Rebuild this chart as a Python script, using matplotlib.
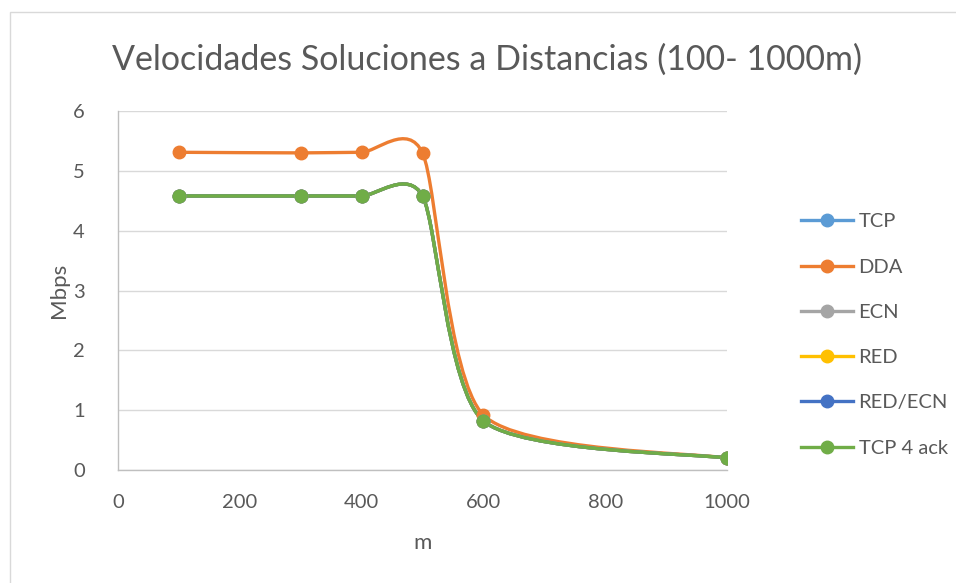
import numpy as np
import matplotlib
matplotlib.use("Agg")
import matplotlib.pyplot as plt
from matplotlib.path import Path
from matplotlib.patches import PathPatch, Rectangle
from matplotlib.lines import Line2D

# data
distancia = [100, 300, 400, 500, 600, 1000]
series = ["TCP", "DDA", "ECN", "RED", "RED/ECN", "TCP 4 ack"]
tcp = [4.58, 4.58, 4.58, 4.58, 0.82, 0.20]
dda = [5.31, 5.30, 5.31, 5.30, 0.92, 0.20]
ecn = [4.58, 4.58, 4.58, 4.58, 0.82, 0.20]
red = [4.58, 4.58, 4.58, 4.58, 0.82, 0.20]
red_ecn = [4.58, 4.58, 4.58, 4.58, 0.82, 0.20]
tcp_4ack = [4.58, 4.58, 4.58, 4.58, 0.82, 0.20]
valores = [tcp, dda, ecn, red, red_ecn, tcp_4ack]
colores = ["#5B9BD5", "#ED7D31", "#A5A5A5", "#FFC000", "#4472C4", "#70AD47"]

TXT = "#595959"
plt.rcParams["font.family"] = ["Lato", "DejaVu Sans"]


def smooth_path(xs, ys, f=0.12):
    # excel-like smoothed line: cubic bezier between the points
    p = np.column_stack([xs, ys]).astype(float)
    n = len(p)
    verts = [p[0]]
    codes = [Path.MOVETO]
    for i in range(n - 1):
        p0 = p[i - 1] if i > 0 else p[i]
        p1 = p[i]
        p2 = p[i + 1]
        p3 = p[i + 2] if i + 2 < n else p[i + 1]
        c1 = p1 + (p2 - p0) * f
        c2 = p2 - (p3 - p1) * f
        verts += [c1, c2, p2]
        codes += [Path.CURVE4] * 3
    return Path(verts, codes)


fig = plt.figure(figsize=(9.56, 5.83), dpi=100)
fig.add_artist(Rectangle((9.5 / 956, -0.1), 1.2, 1 - 12.5 / 583 + 0.1,
                         transform=fig.transFigure, fill=False,
                         edgecolor="#D9D9D9", lw=1))
ax = fig.add_axes([118 / 956, 1 - 470 / 583, (727 - 118) / 956, (470 - 111) / 583])

handles = []
for nombre, ys, c in zip(series, valores, colores):
    ax.add_patch(PathPatch(smooth_path(distancia, ys), fill=False,
                           edgecolor=c, lw=2.4, capstyle="round", zorder=3))
    ax.plot(distancia, ys, "o", color=c, ms=9, zorder=4)
    handles.append(Line2D([], [], color=c, lw=2.4, marker="o", ms=9))

ax.set_xlim(0, 1000)
ax.set_ylim(0, 6)
ax.set_xticks(range(0, 1001, 200))
ax.set_yticks(range(0, 7))
ax.grid(axis="y", color="#D9D9D9", lw=1)
ax.set_axisbelow(True)
for s in ["top", "right"]:
    ax.spines[s].set_visible(False)
for s in ["left", "bottom"]:
    ax.spines[s].set_color("#BFBFBF")
    ax.spines[s].set_linewidth(1)
ax.tick_params(length=0, labelsize=14.5, colors=TXT)
ax.tick_params(axis="x", pad=17)
ax.tick_params(axis="y", pad=24)

ax.set_xlabel("m", fontsize=16, color=TXT, labelpad=16)
ax.set_ylabel("Mbps", fontsize=16, color=TXT, labelpad=3)
fig.text(487 / 956, 1 - 60 / 583, "Velocidades Soluciones a Distancias (100- 1000m)",
         ha="center", va="center", fontsize=24.5, color=TXT)

fig.legend(handles, series, loc="center left", bbox_to_anchor=(783 / 956, 1 - 335 / 583),
           frameon=False, fontsize=14.5, labelcolor=TXT, handlelength=2.6,
           handletextpad=0.25, labelspacing=1.4)

fig.savefig("out.png", dpi=100)
